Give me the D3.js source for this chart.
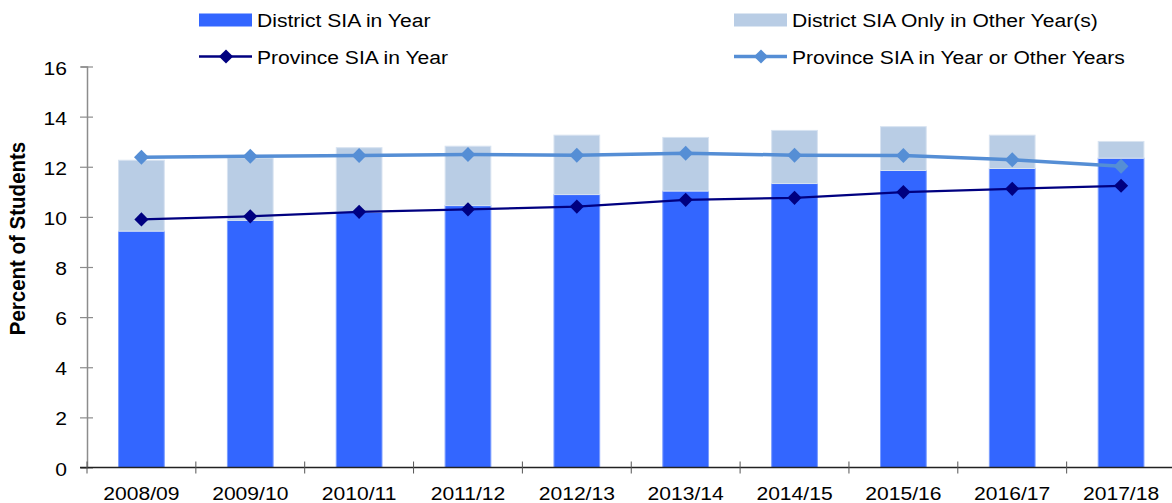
<!DOCTYPE html>
<html>
<head>
<meta charset="utf-8">
<script src="https://cdn.jsdelivr.net/npm/d3@7/dist/d3.min.js"></script>
<style>
    body { margin: 0; background: #fff; }
    svg { display: block; font-family: "Liberation Sans", Arial, sans-serif; }
</style>
</head>
<body>
<svg id="chart" width="1172" height="503"></svg>
<script>
const years = ["2008/09", "2009/10", "2010/11", "2011/12", "2012/13", "2013/14", "2014/15", "2015/16", "2016/17", "2017/18"];
const districtInYear = [9.43, 9.86, 10.19, 10.45, 10.89, 11.03, 11.33, 11.85, 11.93, 12.34];
const districtOtherOnly = [2.83, 2.49, 2.57, 2.37, 2.37, 2.14, 2.12, 1.75, 1.33, 0.67];
const provinceInYear = [9.90, 10.02, 10.20, 10.30, 10.41, 10.68, 10.76, 10.99, 11.12, 11.24];
const provinceAnyYear = [12.38, 12.42, 12.45, 12.49, 12.46, 12.54, 12.46, 12.45, 12.28, 12.02];
const yTicks = [0, 2, 4, 6, 8, 10, 12, 14, 16];

const darkBar = "#3366ff";
const lightBar = "#b9cde5";
const darkLine = "#000080";
const lightLine = "#558ed5";
const sx = 1.11; // the reference text is slightly wide
const fs = "19px";

const svg = d3.select("#chart");

const x = d3.scaleBand()
    .domain(years)
    .range([87, 1175.5])
    .paddingInner(0.58)
    .paddingOuter(0.29);

const y = d3.scaleLinear()
    .domain([0, 16])
    .range([467.5, 66.5]);

const rows = years.map((yr, i) => ({
    year: yr,
    inYear: districtInYear[i],
    other: districtOtherOnly[i],
    provYear: provinceInYear[i],
    provAny: provinceAnyYear[i]
}));

// stacked bars
const bars = svg.append("g");
bars.selectAll(".dark")
    .data(rows)
    .enter().append("rect")
    .attr("x", d => x(d.year))
    .attr("width", x.bandwidth())
    .attr("y", d => y(d.inYear))
    .attr("height", d => y(0) - y(d.inYear))
    .attr("fill", darkBar)
    .attr("stroke", "#7a9cff")
    .attr("stroke-width", 1);

bars.selectAll(".light")
    .data(rows)
    .enter().append("rect")
    .attr("x", d => x(d.year))
    .attr("width", x.bandwidth())
    .attr("y", d => y(d.inYear + d.other))
    .attr("height", d => y(d.inYear) - y(d.inYear + d.other))
    .attr("fill", lightBar)
    .attr("stroke", "#d8e3f1")
    .attr("stroke-width", 1);

// y axis
const yAxis = svg.append("g")
    .attr("transform", "translate(87,0)")
    .call(d3.axisLeft(y).tickValues(yTicks).tickFormat(d3.format("d")));
yAxis.select(".domain").attr("stroke", "#8c8c8c").attr("stroke-width", 1.5);
yAxis.selectAll(".tick line").attr("x1", -7).attr("x2", 6).attr("stroke", "#8c8c8c").attr("stroke-width", 1.2);
yAxis.selectAll(".tick text")
    .attr("x", null).attr("dy", null)
    .attr("transform", "translate(-20,7.5) scale(" + sx + ",1)")
    .attr("font-size", fs)
    .attr("fill", "#000");

// x axis
const half = x.step() * x.paddingInner() / 2;
svg.append("line")
    .attr("x1", 80).attr("x2", 1180)
    .attr("y1", y(0)).attr("y2", y(0))
    .attr("stroke", "#222").attr("stroke-width", 1.5);
svg.append("g").selectAll("line")
    .data(years)
    .enter().append("line")
    .attr("x1", d => x(d) - half).attr("x2", d => x(d) - half)
    .attr("y1", y(0) - 6).attr("y2", y(0) + 6)
    .attr("stroke", "#555").attr("stroke-width", 1);

svg.append("g").selectAll("text")
    .data(years)
    .enter().append("text")
    .attr("transform", d => `translate(${x(d) + x.bandwidth() / 2},499.5) scale(${sx},1)`)
    .attr("text-anchor", "middle")
    .attr("font-size", fs)
    .text(d => d);

// y title
svg.append("text")
    .attr("transform", "translate(25,238.5) rotate(-90) scale(1," + sx + ")")
    .attr("text-anchor", "middle")
    .attr("font-size", "20.5px")
    .attr("font-weight", "bold")
    .text("Percent of Students");

// lines
const cx = d => x(d.year) + x.bandwidth() / 2;
const diamond = (g, size, color) => g.append("rect")
    .attr("x", -size / 2).attr("y", -size / 2)
    .attr("width", size).attr("height", size)
    .attr("transform", "rotate(45)")
    .attr("fill", color);

function drawSeries(key, color, width, markSize) {
    svg.append("path")
        .datum(rows)
        .attr("fill", "none")
        .attr("stroke", color)
        .attr("stroke-width", width)
        .attr("stroke-linejoin", "round")
        .attr("d", d3.line().x(cx).y(d => y(d[key])));
    svg.append("g").selectAll("g")
        .data(rows)
        .enter().append("g")
        .attr("transform", d => `translate(${cx(d)},${y(d[key])})`)
        .each(function() { diamond(d3.select(this), markSize, color); });
}
drawSeries("provAny", lightLine, 3.5, 10.5);
drawSeries("provYear", darkLine, 2.2, 10);

// legend
const legend = svg.append("g");
const legendItems = [
    { label: "District SIA in Year", kind: "bar", color: darkBar, x: 199, y: 20 },
    { label: "District SIA Only in Other Year(s)", kind: "bar", color: lightBar, x: 734, y: 20 },
    { label: "Province SIA in Year", kind: "line", color: darkLine, w: 2.5, x: 199, y: 56.5 },
    { label: "Province SIA in Year or Other Years", kind: "line", color: lightLine, w: 3.5, x: 734, y: 56.5 }
];
legendItems.forEach(d => {
    const g = legend.append("g").attr("transform", `translate(${d.x},${d.y})`);
    if (d.kind === "bar") {
        g.append("rect")
            .attr("x", 0).attr("y", -6.5)
            .attr("width", 53).attr("height", 13)
            .attr("fill", d.color);
    } else {
        g.append("line")
            .attr("x1", 0).attr("x2", 53)
            .attr("stroke", d.color).attr("stroke-width", d.w);
        const m = g.append("g").attr("transform", "translate(27,0)");
        diamond(m, 10, d.color);
    }
    g.append("text")
        .attr("transform", `translate(58,7) scale(${sx},1)`)
        .attr("font-size", fs)
        .text(d.label);
});
</script>
</body>
</html>
